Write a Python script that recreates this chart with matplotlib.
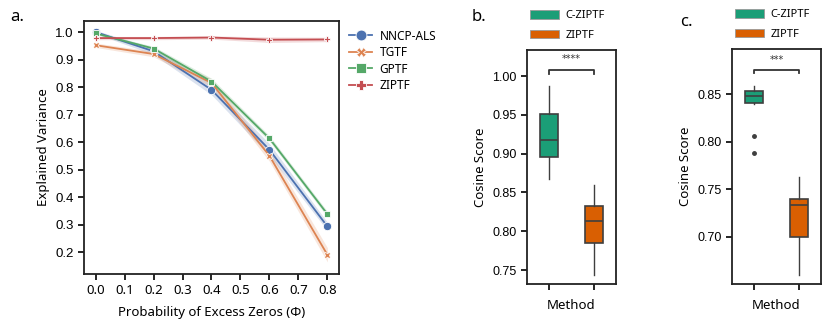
import matplotlib
matplotlib.use("Agg")
import matplotlib.pyplot as plt
from matplotlib.patches import Patch

# Panel a data
phi = [0.0, 0.2, 0.4, 0.6, 0.8]
methods = ['NNCP-ALS', 'TGTF', 'GPTF', 'ZIPTF']
ev_nncp = [1.000, 0.930, 0.790, 0.572, 0.293]
ev_tgtf = [0.952, 0.920, 0.815, 0.550, 0.190]
ev_gptf = [0.995, 0.940, 0.820, 0.613, 0.338]
ev_ziptf = [0.978, 0.978, 0.980, 0.972, 0.973]
# confidence band half widths
ci_nncp = [0.006, 0.012, 0.018, 0.022, 0.015]
ci_tgtf = [0.008, 0.010, 0.015, 0.020, 0.026]
ci_gptf = [0.004, 0.008, 0.012, 0.010, 0.010]
ci_ziptf = [0.006, 0.006, 0.006, 0.010, 0.008]

# Panel b / c box statistics: (whislo, q1, med, q3, whishi)
box_labels = ['C-ZIPTF', 'ZIPTF']
b_czip = [0.867, 0.896, 0.918, 0.9505, 0.987]
b_zip = [0.744, 0.785, 0.8126, 0.832, 0.860]
c_czip = [0.840, 0.8412, 0.8486, 0.8538, 0.8587]
c_czip_fliers = [0.806, 0.788]
c_zip = [0.660, 0.6994, 0.7335, 0.7395, 0.7626]

colors_a = ['#4C72B0', '#DD8452', '#55A868', '#C44E52']
markers_a = ['o', 'X', 's', 'P']
box_colors = ['#1b9e77', '#d95f02']

TICKFONT = 'Liberation Sans'
LABFONT = 'Noto Sans'
plt.rcParams['font.family'] = LABFONT
plt.rcParams['axes.edgecolor'] = '#222222'
plt.rcParams['axes.linewidth'] = 1.3
plt.rcParams['xtick.major.width'] = 1.2
plt.rcParams['ytick.major.width'] = 1.2
plt.rcParams['xtick.major.size'] = 4
plt.rcParams['ytick.major.size'] = 4

fig = plt.figure(figsize=(8.3, 3.28), dpi=100)

# ---------- panel a ----------
ax = fig.add_axes([0.1012, 0.1646, 0.3072, 0.7713])
series = [ev_nncp, ev_tgtf, ev_gptf, ev_ziptf]
cis = [ci_nncp, ci_tgtf, ci_gptf, ci_ziptf]
handles = []
for name, y, ci, col, mk in zip(methods, series, cis, colors_a, markers_a):
    lo = [v - c for v, c in zip(y, ci)]
    hi = [v + c for v, c in zip(y, ci)]
    ax.fill_between(phi, lo, hi, color=col, alpha=0.2, linewidth=0)
    ms = 6 if mk == 'o' else 5
    h, = ax.plot(phi, y, color=col, marker=mk, markersize=ms, lw=1.3,
                 markeredgecolor='white', markeredgewidth=0.6, label=name)
    handles.append(h)
ax.set_xlim(-0.04, 0.84)
ax.set_ylim(0.12, 1.04)
ax.set_xticks([i / 10 for i in range(9)])
ax.set_xticklabels([f'{i / 10:.1f}' for i in range(9)], fontsize=9.5)
ax.set_yticks([i / 10 for i in range(2, 11)])
ax.set_yticklabels([f'{i / 10:.1f}' for i in range(2, 11)], fontsize=9.5,
                   family=TICKFONT)
ax.set_xlabel('Probability of Excess Zeros (Φ)', fontsize=9.5, labelpad=6)
ax.set_ylabel('Explained Variance', fontsize=9.5, labelpad=4)
ax.legend(handles=handles, loc='upper left', bbox_to_anchor=(1.02, 0.985),
          frameon=False, fontsize=8.5, handlelength=2.0, labelspacing=0.3,
          markerscale=1.3, borderaxespad=0, handletextpad=0.6)
fig.text(0.012, 0.935, 'a.', fontsize=12)


def box_panel(rect, stats_list, fliers_list, ylim, yticks, ytl, stars,
              bracket_y, bracket_drop, star_y, letter_pos, letter):
    axb = fig.add_axes(rect)
    stats = []
    for lab, s, fl in zip(box_labels, stats_list, fliers_list):
        stats.append(dict(label=lab, whislo=s[0], q1=s[1], med=s[2],
                          q3=s[3], whishi=s[4], fliers=fl))
    bp = axb.bxp(stats, positions=[0, 1], widths=0.4, patch_artist=True,
                 showfliers=True,
                 boxprops=dict(edgecolor='#3f3f3f', linewidth=1.2),
                 medianprops=dict(color='#3f3f3f', linewidth=1.2),
                 whiskerprops=dict(color='#3f3f3f', linewidth=1.0),
                 capprops=dict(linewidth=0),
                 flierprops=dict(marker='o', markerfacecolor='#3f3f3f',
                                 markeredgecolor='#3f3f3f', markersize=2.5))
    for patch, col in zip(bp['boxes'], box_colors):
        patch.set_facecolor(col)
    axb.set_xlim(-0.5, 1.5)
    axb.set_ylim(*ylim)
    axb.set_xticks([0, 1])
    axb.set_xticklabels(['', ''])
    axb.set_yticks(yticks)
    axb.set_yticklabels(ytl, fontsize=9, family=TICKFONT)
    axb.set_xlabel('Method', fontsize=9.5, labelpad=3)
    axb.set_ylabel('Cosine Score', fontsize=9.5, labelpad=4)
    axb.plot([0, 0, 1, 1], [bracket_y - bracket_drop, bracket_y, bracket_y,
                            bracket_y - bracket_drop],
             color='#333333', lw=1.3)
    axb.text(0.5, star_y, stars, ha='center', va='center', fontsize=7,
             family='DejaVu Sans', color='#333333')
    axb.legend(handles=[Patch(facecolor=c, edgecolor='#999999', lw=0.6,
                              label=l) for c, l in zip(box_colors, box_labels)],
               loc='lower left', bbox_to_anchor=(-0.02, 1.02),
               frameon=False, fontsize=8, handlelength=2.6,
               handleheight=0.8, labelspacing=0.75, borderaxespad=0,
               handletextpad=0.6)
    fig.text(letter_pos[0], letter_pos[1], letter, fontsize=12)
    return axb


box_panel([0.635, 0.1341, 0.1072, 0.7134], [b_czip, b_zip], [[], []],
          (0.732, 1.0335), [0.75, 0.80, 0.85, 0.90, 0.95, 1.00],
          ['0.75', '0.80', '0.85', '0.90', '0.95', '1.00'], '****',
          1.0077, 0.005, 1.0215, (0.568, 0.935), 'b.')

box_panel([0.8819, 0.1341, 0.1072, 0.7165], [c_czip, c_zip],
          [c_czip_fliers, []],
          (0.650, 0.8977), [0.70, 0.75, 0.80, 0.85],
          ['0.70', '0.75', '0.80', '0.85'], '***',
          0.876, 0.004, 0.886, (0.820, 0.92), 'c.')

fig.savefig('out.png', dpi=100)
